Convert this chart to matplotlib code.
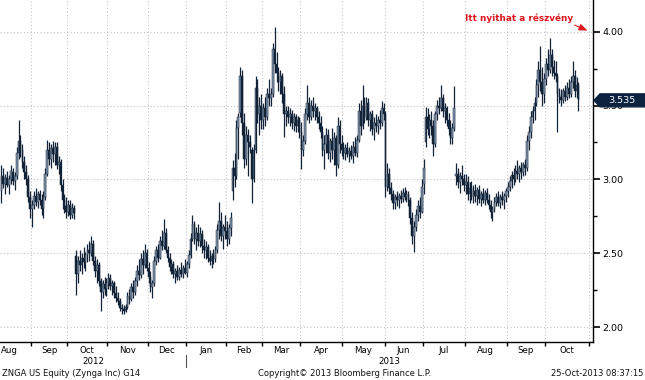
import numpy as np
import pandas as pd
import matplotlib
matplotlib.use("Agg")
import matplotlib.pyplot as plt
import matplotlib.transforms as mtransforms
from matplotlib.patches import Polygon
from matplotlib.lines import Line2D

# ---------------- data ----------------
start_date = "2012-08-10"
axis_end_date = "2013-11-08"
holidays = ["2012-09-03", "2012-10-29", "2012-10-30", "2012-11-22", "2012-12-25",
            "2013-01-01", "2013-01-21", "2013-02-18", "2013-03-29", "2013-05-27",
            "2013-07-04", "2013-09-02"]

opens = [
    # Aug 2012
    2.92, 3.02, 2.97, 3.01, 2.96, 3.00, 3.05, 2.99, 3.02, 3.18, 3.26, 3.20, 3.12, 3.05, 3.00, 2.88,
    # Sep
    2.80, 2.83, 2.89, 2.85, 2.90, 2.86, 2.80, 2.88, 3.04, 3.20, 3.14, 3.21, 3.17, 3.22, 3.10, 3.12, 2.96, 2.86, 2.82,
    # Oct
    2.78, 2.83, 2.76, 2.81, 2.48, 2.36, 2.45, 2.42, 2.47, 2.44, 2.49, 2.52, 2.50, 2.56, 2.45, 2.38, 2.42, 2.31, 2.24, 2.29, 2.26,
    # Nov
    2.30, 2.33, 2.28, 2.30, 2.23, 2.20, 2.18, 2.13, 2.12, 2.11, 2.14, 2.21, 2.19, 2.27, 2.24, 2.31, 2.38, 2.35, 2.46, 2.42, 2.50,
    # Dec
    2.40, 2.34, 2.27, 2.30, 2.45, 2.52, 2.47, 2.58, 2.55, 2.64, 2.52, 2.47, 2.41, 2.43, 2.36, 2.38, 2.34, 2.39, 2.36, 2.40,
    # Jan 2013
    2.37, 2.43, 2.49, 2.60, 2.70, 2.60, 2.64, 2.58, 2.63, 2.55, 2.52, 2.54, 2.47, 2.45, 2.48, 2.46, 2.52, 2.66, 2.72, 2.62, 2.68,
    # Feb
    2.65, 2.60, 2.67, 2.92, 3.08, 3.02, 3.35, 3.45, 3.70, 3.38, 3.14, 3.30, 3.25, 3.20, 3.00, 3.20, 3.62, 3.44, 3.50,
    # Mar
    3.40, 3.48, 3.42, 3.58, 3.55, 3.58, 3.88, 3.78, 3.72, 3.66, 3.70, 3.58, 3.44, 3.46, 3.42, 3.44, 3.38, 3.42, 3.36, 3.40,
    # Apr
    3.32, 3.20, 3.26, 3.44, 3.52, 3.42, 3.50, 3.46, 3.48, 3.42, 3.38, 3.32, 3.20, 3.24, 3.30, 3.18, 3.26, 3.20, 3.28, 3.10, 3.36, 3.24,
    # May
    3.20, 3.18, 3.21, 3.17, 3.19, 3.16, 3.22, 3.18, 3.27, 3.46, 3.36, 3.50, 3.42, 3.52, 3.40, 3.44, 3.34, 3.38, 3.36, 3.40, 3.38, 3.48,
    # Jun
    3.44, 2.95, 3.04, 2.94, 2.90, 2.84, 2.88, 2.86, 2.89, 2.87, 2.91, 2.88, 2.90, 2.86, 2.74, 2.62, 2.68, 2.76, 2.82, 2.78,
    # Jul
    2.97, 3.25, 3.42, 3.34, 3.40, 3.36, 3.24, 3.44, 3.50, 3.48, 3.55, 3.46, 3.48, 3.40, 3.34, 3.28, 3.35, 3.02, 3.04, 2.98, 3.02, 3.00,
    # Aug
    2.96, 2.98, 2.90, 2.94, 2.88, 2.92, 2.89, 2.93, 2.87, 2.90, 2.86, 2.91, 2.86, 2.83, 2.78, 2.80, 2.85, 2.88, 2.84, 2.88, 2.86, 2.89,
    # Sep
    2.92, 2.95, 2.99, 3.03, 3.00, 3.06, 3.04, 3.08, 3.05, 3.10, 3.08, 3.26, 3.32, 3.42, 3.46, 3.52, 3.64, 3.74, 3.66, 3.58,
    # Oct
    3.68, 3.78, 3.74, 3.84, 3.76, 3.72, 3.70, 3.58, 3.56, 3.54, 3.60, 3.56, 3.62, 3.58, 3.66, 3.70, 3.60, 3.64,
]
highs = [
    3.10, 3.08, 3.04, 3.06, 3.03, 3.10, 3.08, 3.05, 3.22, 3.40, 3.30, 3.24, 3.16, 3.10, 3.03, 2.92,
    2.86, 2.92, 2.94, 2.92, 2.93, 2.90, 2.92, 3.08, 3.27, 3.25, 3.24, 3.26, 3.25, 3.25, 3.16, 3.14, 3.00, 2.90, 2.88,
    2.86, 2.86, 2.84, 2.83, 2.52, 2.48, 2.52, 2.50, 2.54, 2.51, 2.56, 2.58, 2.62, 2.59, 2.48, 2.46, 2.44, 2.33, 2.32, 2.34, 2.33,
    2.37, 2.36, 2.32, 2.31, 2.28, 2.24, 2.20, 2.16, 2.15, 2.16, 2.24, 2.26, 2.30, 2.32, 2.34, 2.42, 2.46, 2.50, 2.52, 2.56, 2.53,
    2.44, 2.38, 2.32, 2.48, 2.55, 2.56, 2.62, 2.66, 2.73, 2.67, 2.55, 2.50, 2.46, 2.45, 2.40, 2.42, 2.41, 2.44, 2.42, 2.46,
    2.45, 2.52, 2.64, 2.76, 2.72, 2.68, 2.70, 2.68, 2.66, 2.60, 2.58, 2.56, 2.52, 2.50, 2.53, 2.55, 2.70, 2.85, 2.78, 2.70, 2.76,
    2.72, 2.70, 2.78, 3.13, 3.18, 3.40, 3.45, 3.76, 3.74, 3.45, 3.36, 3.34, 3.30, 3.22, 3.24, 3.70, 3.68, 3.56, 3.58,
    3.52, 3.56, 3.62, 3.68, 3.62, 3.92, 4.03, 3.86, 3.76, 3.74, 3.72, 3.63, 3.50, 3.50, 3.48, 3.47, 3.45, 3.44, 3.43, 3.42,
    3.39, 3.30, 3.48, 3.64, 3.56, 3.54, 3.56, 3.52, 3.50, 3.46, 3.43, 3.36, 3.30, 3.35, 3.34, 3.28, 3.35, 3.32, 3.30, 3.42, 3.40, 3.30,
    3.25, 3.24, 3.25, 3.22, 3.23, 3.26, 3.29, 3.30, 3.52, 3.54, 3.64, 3.56, 3.56, 3.55, 3.46, 3.47, 3.42, 3.44, 3.43, 3.47, 3.53, 3.52,
    3.46, 3.11, 3.08, 2.98, 2.93, 2.90, 2.92, 2.91, 2.93, 2.94, 2.95, 2.93, 2.92, 2.88, 2.78, 2.72, 2.80, 2.86, 2.88, 3.00,
    3.14, 3.49, 3.48, 3.44, 3.46, 3.40, 3.46, 3.54, 3.56, 3.64, 3.58, 3.52, 3.50, 3.45, 3.40, 3.38, 3.63, 3.11, 3.08, 3.05, 3.10, 3.04,
    3.04, 3.02, 2.98, 2.99, 2.96, 2.97, 2.95, 2.96, 2.92, 2.94, 2.93, 2.94, 2.90, 2.86, 2.82, 2.88, 2.91, 2.92, 2.90, 2.92, 2.91, 2.94,
    2.98, 3.02, 3.06, 3.08, 3.10, 3.13, 3.10, 3.12, 3.12, 3.14, 3.30, 3.36, 3.46, 3.50, 3.56, 3.68, 3.80, 3.90, 3.76, 3.72,
    3.82, 3.88, 3.96, 3.88, 3.81, 3.80, 3.72, 3.62, 3.61, 3.62, 3.64, 3.66, 3.68, 3.70, 3.80, 3.74, 3.69, 3.66,
]
lows = [
    2.84, 2.94, 2.90, 2.95, 2.90, 2.97, 2.96, 2.93, 3.00, 3.14, 3.15, 3.08, 3.00, 2.96, 2.85, 2.74,
    2.68, 2.80, 2.82, 2.81, 2.83, 2.76, 2.74, 2.86, 3.02, 3.10, 3.08, 3.12, 3.10, 3.07, 3.04, 2.92, 2.80, 2.77, 2.74,
    2.75, 2.73, 2.74, 2.73, 2.22, 2.30, 2.38, 2.36, 2.40, 2.38, 2.44, 2.45, 2.48, 2.42, 2.34, 2.30, 2.28, 2.11, 2.20, 2.22, 2.21,
    2.26, 2.25, 2.22, 2.20, 2.17, 2.15, 2.11, 2.09, 2.09, 2.10, 2.12, 2.16, 2.18, 2.20, 2.22, 2.28, 2.32, 2.33, 2.36, 2.40, 2.38,
    2.30, 2.24, 2.20, 2.28, 2.42, 2.44, 2.46, 2.52, 2.53, 2.50, 2.44, 2.38, 2.36, 2.33, 2.30, 2.32, 2.32, 2.34, 2.33, 2.36,
    2.34, 2.40, 2.47, 2.58, 2.56, 2.52, 2.55, 2.54, 2.50, 2.47, 2.46, 2.44, 2.42, 2.40, 2.43, 2.44, 2.50, 2.60, 2.58, 2.53, 2.60,
    2.55, 2.56, 2.62, 2.86, 2.95, 3.00, 3.14, 3.42, 3.30, 3.08, 3.10, 3.02, 3.18, 2.84, 2.98, 3.18, 3.38, 3.30, 3.34,
    3.34, 3.36, 3.40, 3.50, 3.50, 3.56, 3.72, 3.66, 3.60, 3.58, 3.52, 3.29, 3.36, 3.38, 3.36, 3.34, 3.33, 3.32, 3.32, 3.28,
    3.07, 3.16, 3.24, 3.40, 3.38, 3.40, 3.42, 3.40, 3.38, 3.34, 3.28, 3.16, 3.07, 3.18, 3.14, 3.12, 3.14, 3.10, 3.02, 3.08, 3.18, 3.16,
    3.14, 3.13, 3.15, 3.12, 3.14, 3.11, 3.16, 3.15, 3.25, 3.30, 3.34, 3.38, 3.40, 3.36, 3.33, 3.30, 3.27, 3.32, 3.31, 3.34, 3.36, 3.40,
    2.88, 2.92, 2.90, 2.86, 2.80, 2.80, 2.82, 2.81, 2.84, 2.85, 2.86, 2.85, 2.82, 2.70, 2.56, 2.51, 2.65, 2.72, 2.74, 2.77,
    2.90, 3.22, 3.30, 3.28, 3.30, 3.16, 3.22, 3.40, 3.44, 3.46, 3.42, 3.38, 3.36, 3.30, 3.24, 3.24, 3.33, 2.96, 2.94, 2.91, 2.96, 2.92,
    2.90, 2.86, 2.84, 2.86, 2.84, 2.85, 2.83, 2.84, 2.82, 2.84, 2.83, 2.84, 2.80, 2.74, 2.72, 2.78, 2.82, 2.82, 2.81, 2.83, 2.80, 2.85,
    2.88, 2.92, 2.94, 2.96, 2.98, 3.00, 2.98, 3.00, 3.02, 3.03, 3.06, 3.20, 3.28, 3.38, 3.40, 3.50, 3.56, 3.60, 3.50, 3.52,
    3.64, 3.70, 3.72, 3.70, 3.68, 3.66, 3.32, 3.52, 3.50, 3.52, 3.53, 3.54, 3.55, 3.56, 3.62, 3.56, 3.55, 3.46,
]
closes = [
    3.02, 2.97, 3.01, 2.96, 3.00, 3.06, 2.99, 3.02, 3.18, 3.26, 3.20, 3.12, 3.05, 3.00, 2.88, 2.80,
    2.83, 2.89, 2.85, 2.90, 2.86, 2.80, 2.88, 3.04, 3.20, 3.14, 3.21, 3.17, 3.22, 3.10, 3.12, 2.96, 2.86, 2.82, 2.78,
    2.83, 2.76, 2.81, 2.77, 2.36, 2.45, 2.42, 2.47, 2.44, 2.49, 2.52, 2.50, 2.56, 2.45, 2.38, 2.42, 2.31, 2.24, 2.29, 2.26, 2.30,
    2.33, 2.28, 2.30, 2.23, 2.20, 2.18, 2.13, 2.12, 2.11, 2.14, 2.21, 2.19, 2.27, 2.24, 2.31, 2.38, 2.35, 2.46, 2.42, 2.50, 2.40,
    2.34, 2.27, 2.30, 2.45, 2.52, 2.47, 2.58, 2.55, 2.64, 2.52, 2.47, 2.41, 2.43, 2.36, 2.38, 2.34, 2.39, 2.36, 2.40, 2.37,
    2.43, 2.49, 2.60, 2.70, 2.60, 2.64, 2.58, 2.63, 2.55, 2.52, 2.54, 2.47, 2.45, 2.48, 2.46, 2.52, 2.66, 2.72, 2.62, 2.68, 2.65,
    2.60, 2.67, 2.74, 3.08, 3.02, 3.35, 3.42, 3.70, 3.38, 3.14, 3.30, 3.25, 3.22, 3.00, 3.20, 3.62, 3.44, 3.50, 3.40,
    3.48, 3.42, 3.58, 3.55, 3.58, 3.88, 3.78, 3.72, 3.66, 3.70, 3.58, 3.44, 3.46, 3.42, 3.44, 3.38, 3.42, 3.36, 3.40, 3.32,
    3.20, 3.26, 3.44, 3.52, 3.42, 3.50, 3.46, 3.48, 3.42, 3.38, 3.32, 3.20, 3.24, 3.30, 3.18, 3.26, 3.20, 3.28, 3.10, 3.36, 3.24, 3.20,
    3.18, 3.21, 3.17, 3.19, 3.16, 3.22, 3.18, 3.27, 3.46, 3.36, 3.50, 3.42, 3.52, 3.40, 3.44, 3.34, 3.38, 3.36, 3.40, 3.38, 3.48, 3.44,
    2.95, 3.04, 2.94, 2.90, 2.84, 2.88, 2.86, 2.89, 2.87, 2.91, 2.88, 2.90, 2.86, 2.74, 2.62, 2.68, 2.76, 2.82, 2.78, 2.95,
    3.08, 3.42, 3.34, 3.40, 3.36, 3.24, 3.44, 3.50, 3.48, 3.55, 3.46, 3.48, 3.40, 3.34, 3.28, 3.35, 3.48, 3.04, 2.98, 3.02, 3.00, 2.96,
    2.98, 2.90, 2.94, 2.88, 2.92, 2.89, 2.93, 2.87, 2.90, 2.86, 2.91, 2.86, 2.83, 2.78, 2.80, 2.85, 2.88, 2.84, 2.88, 2.86, 2.89, 2.92,
    2.95, 2.99, 3.03, 3.00, 3.06, 3.04, 3.08, 3.05, 3.10, 3.08, 3.26, 3.32, 3.42, 3.46, 3.52, 3.64, 3.74, 3.66, 3.58, 3.68,
    3.78, 3.74, 3.84, 3.76, 3.72, 3.70, 3.58, 3.56, 3.54, 3.60, 3.56, 3.62, 3.58, 3.66, 3.70, 3.60, 3.64, 3.535,
]
last_price = 3.535
last_price_label = "3.535"
major_yticks = [2.00, 2.50, 3.00, 3.50, 4.00]
major_ylabels = ["2.00", "2.50", "3.00", "3.50", "4.00"]
minor_yticks = [2.25, 2.75, 3.25, 3.75]
annotation_text = "Itt nyithat a részvény"
annotation_target = 4.00
footer_left = "ZNGA US Equity (Zynga Inc) G14"
footer_mid = "Copyright\u00a9 2013 Bloomberg Finance L.P."
footer_right = "25-Oct-2013 08:37:15"

# ---------------- figure ----------------
W, H = 645, 380
fig = plt.figure(figsize=(W / 100, H / 100), dpi=100)
fig.patch.set_facecolor("white")
ax = fig.add_axes([0, 38 / H, 593 / W, 342 / H])

axis_days = pd.bdate_range(start_date, axis_end_date, freq="C", holidays=holidays)
n = len(closes)
x = np.arange(n)
o = np.array(opens); h = np.array(highs); l = np.array(lows); c = np.array(closes)

dark = "#122338"
light = "#8395ab"
up = c >= o
body_bottom = np.minimum(o, c)
body_h = np.maximum(np.abs(c - o), 0.008)

ax.vlines(x, l, h, color=dark, linewidth=0.9, zorder=3)
ax.bar(x[up], body_h[up], bottom=body_bottom[up], width=0.9, color=light,
       edgecolor=dark, linewidth=0.35, zorder=4)
ax.bar(x[~up], body_h[~up], bottom=body_bottom[~up], width=0.9, color=dark,
       edgecolor=dark, linewidth=0.35, zorder=4)

ax.set_xlim(-0.72, 309.6)
ax.set_ylim(1.90, 4.214)

# month boundaries
months = axis_days.to_period("M")
starts = [i for i in range(1, len(axis_days)) if months[i] != months[i - 1]]
bounds = [s - 0.5 for s in starts]
grid_kw = dict(color="#c4c4c4", linewidth=0.8, linestyle=(0, (1, 2)), zorder=1)
for b in bounds:
    ax.axvline(b, **grid_kw)
for yv in major_yticks:
    ax.axhline(yv, **grid_kw)

# x ticks at month boundaries
ax.set_xticks(bounds)
ax.set_xticklabels([])
ax.tick_params(axis="x", direction="out", length=3, width=1, color="black")

# month labels
trans = mtransforms.blended_transform_factory(ax.transData, ax.transAxes)
xmin, xmax = ax.get_xlim()
seg_starts = [xmin] + bounds
seg_ends = bounds + [xmax]
seg_months = [months[0]] + [months[s] for s in starts]
for k, (a, b, m) in enumerate(zip(seg_starts, seg_ends, seg_months)):
    if b - a < 5:
        continue
    label = m.strftime("%b")
    if k == 0:
        ax.text(xmin + 0.3, -0.013, label, transform=trans, ha="left", va="top",
                fontsize=6.2, color="black")
    else:
        ax.text((a + b) / 2, -0.013, label, transform=trans, ha="center", va="top",
                fontsize=6.2, color="black")

# year labels
years = axis_days.year
year_bound = None
for yr in sorted(set(years)):
    idx = np.where(years == yr)[0]
    a = max(idx[0] - 0.5, xmin)
    b = min(idx[-1] + 0.5, xmax)
    ax.text((a + b) / 2, -0.043, str(yr), transform=trans, ha="center", va="top",
            fontsize=6.2, color="black")
    if idx[0] > 0:
        year_bound = idx[0] - 0.5
if year_bound is not None:
    ax.add_line(Line2D([year_bound, year_bound], [-0.038, -0.073], transform=trans,
                       color="#555555", linewidth=0.8, clip_on=False))

# y axis on right
ax.yaxis.tick_right()
ax.set_yticks(major_yticks)
ax.set_yticklabels(major_ylabels)
ax.set_yticks(minor_yticks, minor=True)
ax.tick_params(axis="y", which="major", direction="out", length=5, width=1.2,
               color="black", labelsize=6.8, pad=1.5)
ax.tick_params(axis="y", which="minor", direction="out", length=3, width=1, color="black")

for s in ["left", "top"]:
    ax.spines[s].set_visible(False)
for s in ["right", "bottom"]:
    ax.spines[s].set_color("black")
    ax.spines[s].set_linewidth(1.0)

# last price marker
ptrans = mtransforms.blended_transform_factory(fig.transFigure, ax.transData)
hh = 6.5 / 148
poly = Polygon([(594 / W, last_price), (600 / W, last_price + hh), (1.0, last_price + hh),
                (1.0, last_price - hh), (600 / W, last_price - hh)], closed=True,
               transform=ptrans, facecolor="#0c2340", edgecolor="#0c2340",
               clip_on=False, zorder=10)
fig.add_artist(poly)
lp = fig.text(622 / W, last_price, last_price_label, transform=ptrans, ha="center",
              va="center", fontsize=6.8, color="white", zorder=11)

# annotation
fig.text(519 / W, 1 - 18 / H, annotation_text, ha="center", va="center",
         fontsize=6.4, fontweight="bold", color="#e0141e")
ax.annotate("", xy=(590 / W, annotation_target), xycoords=ptrans,
            xytext=(572 / W, 1 - 24 / H), textcoords="figure fraction",
            arrowprops=dict(arrowstyle="-|>,head_length=0.5,head_width=0.2",
                            color="#e0141e", lw=0.8), annotation_clip=False)

# footer
fig.text(2 / W, 7 / H, footer_left, ha="left", va="center", fontsize=6.0, color="#111111")
fig.text(258 / W, 7 / H, footer_mid, ha="left", va="center", fontsize=6.0, color="#111111")
fig.text(643 / W, 7 / H, footer_right, ha="right", va="center", fontsize=6.0, color="#111111")

fig.savefig("out.png", dpi=100, facecolor="white")
